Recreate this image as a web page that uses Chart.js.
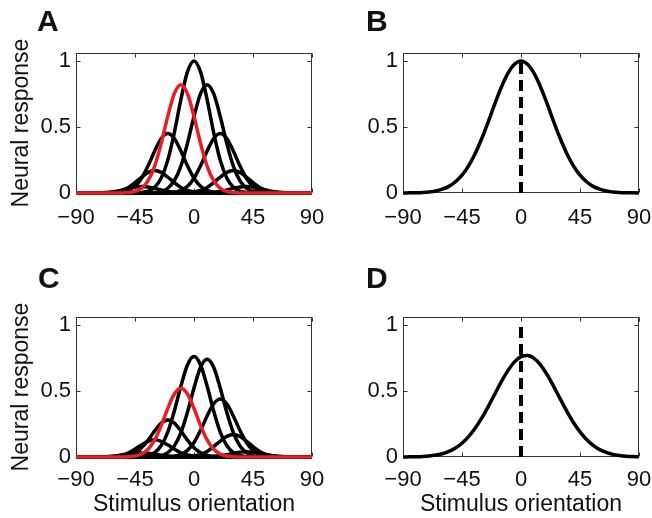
<!DOCTYPE html>
<html>
<head>
<meta charset="utf-8">
<script src="https://cdn.jsdelivr.net/npm/chart.js@4.4.1/dist/chart.umd.min.js"></script>
<style>
  body { margin: 0; background: #fff; }
  #wrap { position: relative; width: 652px; height: 518px; }
  .panel { position: absolute; width: 326px; height: 259px; }
  .letter { position: absolute; font: bold 30px "Liberation Sans", Arial, Helvetica, sans-serif; line-height: 1; color: #111; }
</style>
</head>
<body>
<div id="wrap">
  <div class="panel" style="left:0;top:0"><canvas id="chartA" width="326" height="259"></canvas></div>
  <div class="panel" style="left:326px;top:0"><canvas id="chartB" width="326" height="259"></canvas></div>
  <div class="panel" style="left:0;top:259px"><canvas id="chartC" width="326" height="259"></canvas></div>
  <div class="panel" style="left:326px;top:259px"><canvas id="chartD" width="326" height="259"></canvas></div>
  <div class="letter" style="left:37px;top:6px">A</div>
  <div class="letter" style="left:366px;top:6px">B</div>
  <div class="letter" style="left:38px;top:263px">C</div>
  <div class="letter" style="left:366px;top:263px">D</div>
</div>
<script>
// stimulus orientations (deg)
const angles = [-90,-85,-80,-75,-70,-65,-60,-55,-50,-45,-40,-35,-30,-25,-20,-15,-10,-5,0,5,10,15,20,25,30,35,40,45,50,55,60,65,70,75,80,85,90]
const xTicks = [-90, -45, 0, 45, 90]
const yTicks = [0, 0.5, 1]

// panel A: tuning curves (preferred -40 .. 40), red = -10
const aPref40m = [0,0,0,.001,.002,.006,.012,.023,.035,.046,.050,.046,.035,.023,.012,.006,.002,.001,0,0,0,0,0,0,0,0,0,0,0,0,0,0,0,0,0,0,0]
const aPref30m = [0,0,0,0,.001,.002,.007,.019,.042,.078,.120,.156,.170,.156,.120,.078,.042,.019,.007,.002,.001,0,0,0,0,0,0,0,0,0,0,0,0,0,0,0,0]
const aPref20m = [0,0,0,0,0,0,.002,.006,.020,.051,.112,.206,.318,.413,.450,.413,.318,.206,.112,.051,.020,.006,.002,0,0,0,0,0,0,0,0,0,0,0,0,0,0]
const aPref10m = [0,0,0,0,0,0,0,0,.003,.012,.036,.093,.204,.376,.580,.752,.820,.752,.580,.376,.204,.093,.036,.012,.003,0,0,0,0,0,0,0,0,0,0,0,0]
const aPref0   = [0,0,0,0,0,0,0,0,0,0,.004,.014,.044,.114,.249,.458,.707,.917,1,.917,.707,.458,.249,.114,.044,.014,.004,0,0,0,0,0,0,0,0,0,0]
const aPref10  = [0,0,0,0,0,0,0,0,0,0,0,0,.003,.012,.036,.093,.204,.376,.580,.752,.820,.752,.580,.376,.204,.093,.036,.012,.003,0,0,0,0,0,0,0,0]
const aPref20  = [0,0,0,0,0,0,0,0,0,0,0,0,0,0,.002,.006,.020,.051,.112,.206,.318,.413,.450,.413,.318,.206,.112,.051,.020,.006,.002,0,0,0,0,0,0]
const aPref30  = [0,0,0,0,0,0,0,0,0,0,0,0,0,0,0,0,.001,.002,.007,.019,.042,.078,.120,.156,.170,.156,.120,.078,.042,.019,.007,.002,.001,0,0,0,0]
const aPref40  = [0,0,0,0,0,0,0,0,0,0,0,0,0,0,0,0,0,0,0,.001,.002,.006,.012,.023,.035,.046,.050,.046,.035,.023,.012,.006,.002,.001,0,0,0]

// panel C: same neurons, lower gains
const cPref40m = [0,0,0,0,.001,.003,.007,.014,.021,.028,.030,.028,.021,.014,.007,.003,.001,0,0,0,0,0,0,0,0,0,0,0,0,0,0,0,0,0,0,0,0]
const cPref30m = [0,0,0,0,.001,.002,.006,.015,.032,.060,.092,.119,.130,.119,.092,.060,.032,.015,.006,.002,.001,0,0,0,0,0,0,0,0,0,0,0,0,0,0,0,0]
const cPref20m = [0,0,0,0,0,0,.001,.004,.012,.032,.070,.128,.198,.257,.280,.257,.198,.128,.070,.032,.012,.004,.001,0,0,0,0,0,0,0,0,0,0,0,0,0,0]
const cPref10m = [0,0,0,0,0,0,0,0,.002,.007,.023,.059,.129,.238,.368,.477,.520,.477,.368,.238,.129,.059,.023,.007,.002,0,0,0,0,0,0,0,0,0,0,0,0]
const cPref0   = [0,0,0,0,0,0,0,0,0,0,.003,.011,.033,.087,.189,.348,.537,.697,.760,.697,.537,.348,.189,.087,.033,.011,.003,0,0,0,0,0,0,0,0,0,0]
const cPref10  = [0,0,0,0,0,0,0,0,0,0,0,0,.003,.010,.033,.084,.184,.339,.523,.679,.740,.679,.523,.339,.184,.084,.033,.010,.003,0,0,0,0,0,0,0,0]
const cPref20  = [0,0,0,0,0,0,0,0,0,0,0,0,0,0,.002,.006,.019,.050,.110,.202,.311,.403,.440,.403,.311,.202,.110,.050,.019,.006,.002,0,0,0,0,0,0]
const cPref30  = [0,0,0,0,0,0,0,0,0,0,0,0,0,0,0,0,.001,.002,.007,.019,.042,.078,.120,.156,.170,.156,.120,.078,.042,.019,.007,.002,.001,0,0,0,0]
const cPref40  = [0,0,0,0,0,0,0,0,0,0,0,0,0,0,0,0,0,0,0,.001,.002,.005,.010,.018,.028,.037,.040,.037,.028,.018,.010,.005,.002,.001,0,0,0]

// panels B and D: population response
const bResponse = [0,.001,.002,.004,.008,.015,.029,.050,.085,.135,.206,.298,.411,.539,.674,.801,.906,.975,1,.975,.906,.801,.674,.539,.411,.298,.206,.135,.085,.050,.029,.015,.008,.004,.002,.001,0]
const dResponse = [0,.001,.002,.004,.008,.015,.025,.042,.068,.104,.154,.217,.294,.382,.476,.570,.654,.720,.760,.769,.747,.696,.622,.533,.438,.346,.261,.190,.132,.088,.056,.035,.020,.012,.006,.003,.002]

// true stimulus marker
const stimX = [0, 0]
const stimY = [0, 1]

const RED = '#ec1c24'
const FONT = '"Liberation Sans", Arial, Helvetica, sans-serif'

const pts = (xs, ys) => xs.map((x, i) => ({ x, y: ys[i] }))

const curve = (ys, color) => ({
  data: pts(angles, ys),
  borderColor: color,
  borderWidth: 3.5,
  pointRadius: 0,
  cubicInterpolationMode: 'monotone',
  borderJoinStyle: 'round',
  clip: false
})

const marker = () => ({
  data: pts(stimX, stimY),
  borderColor: '#000',
  borderWidth: 4,
  borderDash: [11, 6],
  pointRadius: 0,
  clip: false
})

// box + inward ticks, matlab style
const frame = {
  id: 'frame',
  beforeDatasetsDraw(chart) {
    const { ctx, chartArea: a, scales: { x, y } } = chart
    const l = Math.round(a.left) + 0.5, r = Math.round(a.right) - 0.5
    const t = Math.round(a.top) + 0.5, b = Math.round(a.bottom) - 0.5
    ctx.save()
    ctx.strokeStyle = '#333'
    ctx.lineWidth = 1
    ctx.strokeRect(l, t, r - l, b - t)
    ctx.beginPath()
    for (const v of xTicks) {
      const px = Math.round(x.getPixelForValue(v)) + 0.5
      ctx.moveTo(px, b); ctx.lineTo(px, b - 4)
      ctx.moveTo(px, t); ctx.lineTo(px, t + 4)
    }
    for (const v of yTicks) {
      const py = Math.round(y.getPixelForValue(v)) + 0.5
      ctx.moveTo(l, py); ctx.lineTo(l + 4, py)
      ctx.moveTo(r, py); ctx.lineTo(r - 4, py)
    }
    ctx.stroke()
    ctx.restore()
  }
}

const makePanel = (id, datasets, opt) => {
  return new Chart(document.getElementById(id), {
    type: 'line',
    data: { datasets },
    plugins: [frame],
    options: {
      responsive: false,
      animation: false,
      events: [],
      layout: { padding: { left: 0, right: 326 - opt.right, top: opt.top, bottom: 0 } },
      plugins: { legend: { display: false }, tooltip: { enabled: false } },
      scales: {
        x: {
          type: 'linear',
          min: -90, max: 90,
          grid: { display: false, drawTicks: false },
          border: { display: false },
          afterBuildTicks: s => { s.ticks = xTicks.map(v => ({ value: v })) },
          afterFit: s => {
            s.height = 259 - opt.bottom
            s.paddingLeft = 0
            s.paddingRight = 0
          },
          ticks: {
            autoSkip: false, maxRotation: 0, padding: opt.tickPad,
            color: '#111', font: { family: FONT, size: 22 },
            callback: v => String(v).replace('-', '\u2212')
          },
          title: {
            display: !!opt.xTitle, text: 'Stimulus orientation',
            color: '#111', font: { family: FONT, size: 23 },
            padding: { top: 0, bottom: 0 }
          }
        },
        y: {
          min: 0, max: 1.06,
          grid: { display: false, drawTicks: false },
          border: { display: false },
          afterBuildTicks: s => { s.ticks = yTicks.map(v => ({ value: v })) },
          afterFit: s => { s.width = opt.left },
          ticks: {
            padding: 5,
            color: '#111', font: { family: FONT, size: 22 },
            callback: v => String(v)
          },
          title: {
            display: !!opt.yTitle, text: 'Neural response',
            color: '#111', font: { family: FONT, size: 23 },
            padding: { top: 8, bottom: 0 }
          }
        }
      }
    }
  })
}

makePanel('chartA', [
  curve(aPref10m, RED),
  curve(aPref40m, '#000'), curve(aPref30m, '#000'), curve(aPref20m, '#000'),
  curve(aPref0, '#000'), curve(aPref10, '#000'), curve(aPref20, '#000'),
  curve(aPref30, '#000'), curve(aPref40, '#000')
], { left: 76, right: 312, top: 53, bottom: 193, tickPad: 12, yTitle: true })

makePanel('chartB', [marker(), curve(bResponse, '#000')],
  { left: 77, right: 313, top: 53, bottom: 193, tickPad: 12 })

makePanel('chartC', [
  curve(cPref10m, RED),
  curve(cPref40m, '#000'), curve(cPref30m, '#000'), curve(cPref20m, '#000'),
  curve(cPref0, '#000'), curve(cPref10, '#000'), curve(cPref20, '#000'),
  curve(cPref30, '#000'), curve(cPref40, '#000')
], { left: 76, right: 312, top: 58, bottom: 198, tickPad: 10, yTitle: true, xTitle: true })

makePanel('chartD', [marker(), curve(dResponse, '#000')],
  { left: 77, right: 313, top: 58, bottom: 198, tickPad: 10, xTitle: true })
</script>
</body>
</html>
